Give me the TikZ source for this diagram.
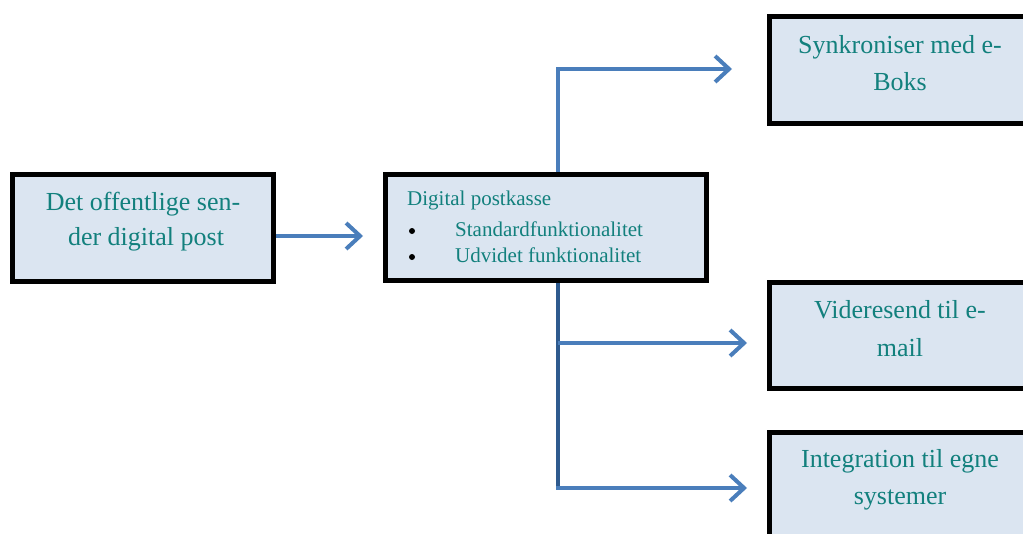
\documentclass[tikz,border=0pt]{standalone}
\usepackage{fontspec}
\setmainfont{Liberation Serif}
\usetikzlibrary{arrows.meta}
\definecolor{boxfill}{HTML}{DBE5F1}
\definecolor{txt}{RGB}{18,128,125}
\definecolor{arrblue}{HTML}{4A7EBB}
\definecolor{darkblue}{HTML}{2E5A8E}
\tikzset{
  box/.style={draw=black, line width=5pt, fill=boxfill, inner sep=0pt},
  bigtxt/.style={text=txt, font=\fontsize{26}{30}\selectfont, inner sep=0pt, anchor=base},
  smalltxt/.style={text=txt, font=\fontsize{21}{25}\selectfont, inner sep=0pt, anchor=base west},
  bul/.style={circle, fill=black, inner sep=0pt, minimum size=6pt},
  arr/.style={draw=arrblue, line width=4pt, -{Straight Barb[length=14pt, width=26pt, line width=4pt]}},
  trunk/.style={draw=darkblue, line width=4pt}
}
\begin{document}
\begin{tikzpicture}[x=1pt, y=-1pt]
\useasboundingbox (0,0) rectangle (1023,533);
\clip (0,0) rectangle (1023,533);
% boxes
\node[box, minimum width=261pt, minimum height=107pt] (b1) at (143,228) {};
\node[box, minimum width=321pt, minimum height=106pt] (b2) at (546,227.5) {};
\node[box, minimum width=262pt, minimum height=107pt] (b3) at (900.5,70) {};
\node[box, minimum width=262pt, minimum height=106pt] (b4) at (900.5,335.5) {};
\node[box, minimum width=262pt, minimum height=107pt] (b5) at (900.5,486) {};
% texts
\node[bigtxt] (t1a) at (143,210) {Det offentlige sen-};
\node[bigtxt] (t1b) at (146,245) {der digital post};
\node[smalltxt] (t2a) at (407,205) {Digital postkasse};
\node[bul] (d1) at (412,231) {};
\node[bul] (d2) at (412,257) {};
\node[smalltxt] (t2b) at (455,236) {Standardfunktionalitet};
\node[smalltxt] (t2c) at (455,262) {Udvidet funktionalitet};
\node[bigtxt] (t3a) at (900,53) {Synkroniser med e-};
\node[bigtxt] (t3b) at (900,90) {Boks};
\node[bigtxt] (t4a) at (900,318) {Videresend til e-};
\node[bigtxt] (t4b) at (900,356) {mail};
\node[bigtxt] (t5a) at (900,467) {Integration til egne};
\node[bigtxt] (t5b) at (900,504) {systemer};
% connector points
\coordinate (e1) at (363,236);
\coordinate (top) at (558,172);
\coordinate (e3) at (732,69);
\coordinate (bot) at (558,283);
\coordinate (j4) at (558,343);
\coordinate (j5) at (558,488);
\coordinate (e4) at (747,343);
\coordinate (e5) at (747,488);
% connectors
\draw[arr] (b1.east |- e1) -- (e1);
\draw[arr] (top) |- (e3);
\draw[trunk] (bot) -- (j5);
\draw[arr] (j4) -- (e4);
\draw[arr] ([xshift=-2pt]j5) -- (e5);
\end{tikzpicture}
\end{document}
